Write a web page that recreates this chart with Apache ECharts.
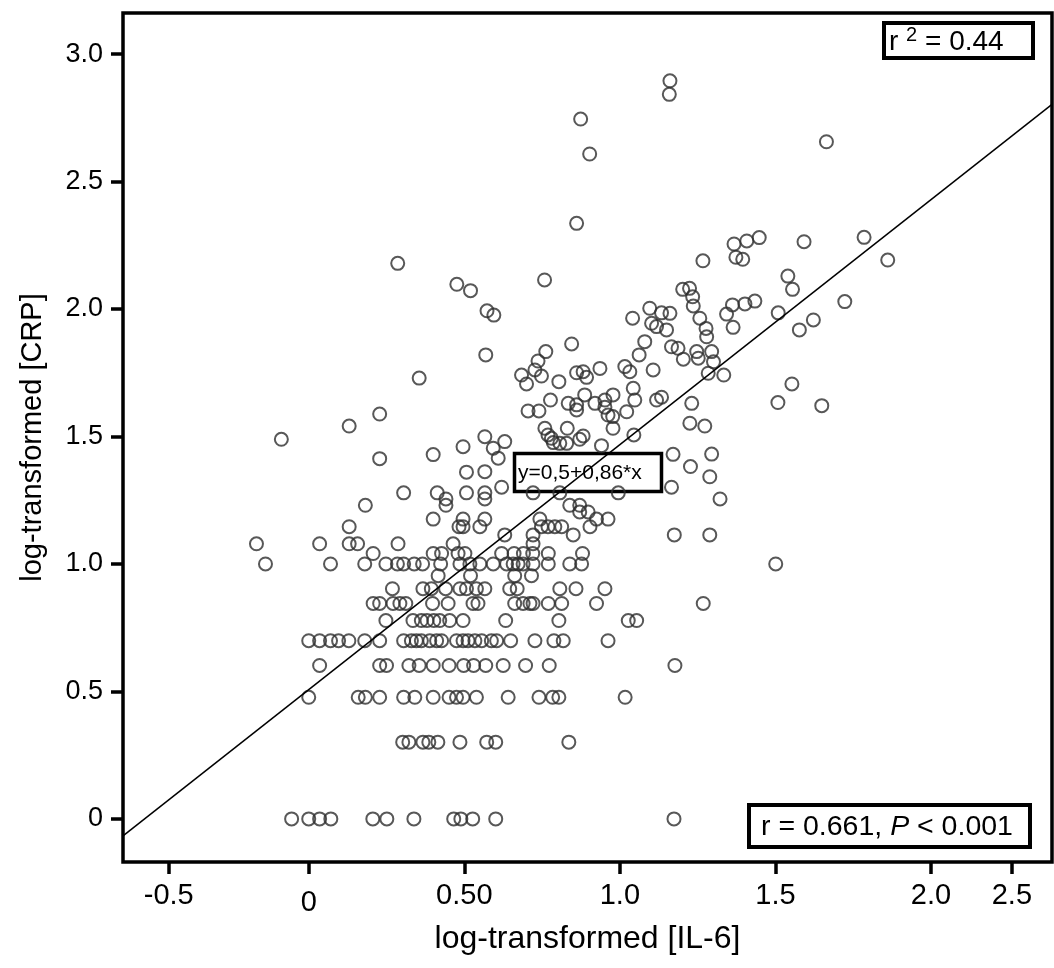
<!DOCTYPE html>
<html>
<head>
<meta charset="utf-8">
<script src="https://cdn.jsdelivr.net/npm/echarts/dist/echarts.min.js"></script>
<style>
  html, body { margin: 0; padding: 0; background: #fff; }
  #main { width: 1054px; height: 968px; }
</style>
</head>
<body>
<div id="main"></div>
<script>
// CRP comes in whole mg/L, so the low part of the cloud sits on log10 levels
const crpLevels = [0, 0.301, 0.477, 0.602, 0.699, 0.778, 0.845, 0.903, 0.954, 1.0,
  1.041, 1.079, 1.114, 1.146, 1.176, 1.204, 1.230, 1.255, 1.279, 1.301];
// log IL-6 of the points on each level above
const il6AtLevel = [
  [-0.055, 0, 0.035, 0.071, 0.206, 0.251, 0.338, 0.466, 0.489, 0.527, 0.601, 1.174],
  [0.302, 0.322, 0.367, 0.386, 0.415, 0.486, 0.572, 0.601, 0.836],
  [0, 0.159, 0.182, 0.228, 0.305, 0.341, 0.400, 0.451, 0.475, 0.496, 0.539, 0.641, 0.740, 0.784, 0.804, 1.017],
  [0.035, 0.228, 0.250, 0.322, 0.355, 0.400, 0.451, 0.498, 0.530, 0.569, 0.625, 0.697, 0.773, 1.177],
  [0, 0.035, 0.070, 0.096, 0.129, 0.180, 0.228, 0.305, 0.330, 0.346, 0.362, 0.389, 0.411, 0.427, 0.475, 0.496, 0.512, 0.534, 0.556, 0.587, 0.604, 0.649, 0.727, 0.788, 0.818, 0.962],
  [0.248, 0.335, 0.362, 0.380, 0.402, 0.421, 0.453, 0.496, 0.633, 0.804, 1.027, 1.054],
  [0.207, 0.228, 0.271, 0.293, 0.312, 0.398, 0.448, 0.528, 0.544, 0.662, 0.689, 0.711, 0.721, 0.770, 0.813, 0.925, 1.268],
  [0.269, 0.367, 0.394, 0.440, 0.486, 0.507, 0.539, 0.566, 0.646, 0.670, 0.807, 0.859, 0.952],
  [0.416, 0.520, 0.662, 0.716],
  [-0.139, 0.070, 0.180, 0.248, 0.285, 0.305, 0.339, 0.366, 0.424, 0.486, 0.518, 0.550, 0.593, 0.636, 0.657, 0.673, 0.689, 0.721, 0.770, 0.839, 0.877, 1.501],
  [0.207, 0.400, 0.427, 0.480, 0.502, 0.620, 0.660, 0.690, 0.720, 0.770, 0.880],
  [-0.168, 0.035, 0.130, 0.157, 0.287, 0.464, 0.721],
  [0.630, 0.721, 0.850, 1.175, 1.289],
  [0.130, 0.483, 0.496, 0.550, 0.748, 0.769, 0.791, 0.813, 0.904],
  [0.400, 0.496, 0.566, 0.743, 0.925, 0.962],
  [0.871, 0.898],
  [0.182, 0.441, 0.839, 0.871],
  [0.441, 0.566, 1.322],
  [0.305, 0.413, 0.507, 0.566, 0.721, 0.807, 0.995],
  [0.620, 1.166]
];
// the scattered upper part of the cloud
const il6Upper = [1.289, 0.507, 0.566, 1.227, 0.228, 0.609, 0.400, 1.171, 1.295, 0.496, 0.593, 0.941,
  0.566, 0.630, 0.769, 0.780, 0.786, 0.807, 0.829, 0.882, 0.871, 1.045, -0.088, 0.130, 0.228, 0.355,
  0.759, 0.831, 0.978, 1.225, 1.273, 0.705, 0.740, 0.952, 0.962, 0.977, 1.022, 0.777, 0.834, 0.861,
  0.861, 0.920, 0.952, 0.978, 0.887, 1.048, 1.118, 1.134, 1.231, 1.043, 0.804, 0.684, 0.700, 0.748,
  0.861, 0.882, 0.893, 0.936, 1.016, 1.032, 1.107, 1.284, 1.334, 0.762, 0.737, 0.727, 0.569, 0.845,
  1.062, 1.080, 1.166, 1.187, 1.204, 1.247, 1.252, 1.295, 1.301, 0.573, 0.595, 1.041, 1.096, 1.134,
  1.161, 1.102, 1.118, 1.150, 1.257, 1.277, 1.279, 1.236, 1.343, 1.364, 1.509, 1.622, 1.577, 1.553,
  1.508, 1.649, 1.367, 1.408, 1.448, 1.373, 1.395, 1.592, 1.785, 1.861, 1.540, 1.555, 1.362, 1.402,
  1.434, 1.723, 0.286, 0.476, 0.520, 0.758, 0.874, 0.903, 0.861, 1.161, 1.159, 1.664, 1.267, 1.202,
  1.224, 1.234];
const crpUpper = [1.342, 1.360, 1.362, 1.382, 1.413, 1.415, 1.429, 1.430, 1.431, 1.460, 1.454, 1.464,
  1.499, 1.480, 1.506, 1.493, 1.476, 1.473, 1.473, 1.502, 1.489, 1.506, 1.489, 1.541, 1.588, 1.729,
  1.532, 1.532, 1.532, 1.552, 1.541, 1.600, 1.600, 1.615, 1.584, 1.578, 1.597, 1.643, 1.630, 1.624,
  1.604, 1.630, 1.643, 1.663, 1.663, 1.643, 1.643, 1.654, 1.630, 1.689, 1.715, 1.741, 1.706, 1.737,
  1.750, 1.754, 1.732, 1.767, 1.774, 1.754, 1.761, 1.748, 1.741, 1.833, 1.796, 1.761, 1.820, 1.863,
  1.820, 1.872, 1.852, 1.846, 1.803, 1.833, 1.807, 1.833, 1.793, 1.993, 1.976, 1.964, 2.003, 1.985,
  1.983, 1.944, 1.931, 1.918, 1.964, 1.924, 1.891, 2.012, 1.980, 1.928, 1.985, 1.957, 1.918, 1.706,
  1.633, 1.621, 2.255, 2.267, 2.280, 2.203, 2.195, 2.264, 2.281, 2.192, 2.129, 2.077, 2.016, 2.020,
  2.031, 2.029, 2.179, 2.097, 2.072, 2.114, 2.745, 2.608, 2.336, 2.895, 2.842, 2.656, 2.189, 2.077,
  2.081, 2.048];

// fitted line as drawn on the figure
const fitIntercept = 0.507;
const fitSlope = 0.961;

const xMin = -0.597, xMax = 2.389;
const yMin = -0.169, yMax = 3.161;
const xTickValues = [-0.45, 0, 0.5, 1, 1.5, 2, 2.26];
const xTickText = ['-0.5', '0', '0.50', '1.0', '1.5', '2.0', '2.5'];
const yTickValues = [0, 0.5, 1, 1.5, 2, 2.5, 3];
const yTickText = ['0', '0.5', '1.0', '1.5', '2.0', '2.5', '3.0'];

let points = [];
crpLevels.forEach(function (lv, i) {
  il6AtLevel[i].forEach(function (x) { points.push([x, lv]); });
});
il6Upper.forEach(function (x, i) { points.push([x, crpUpper[i]]); });

const font = 'Liberation Sans, Arial, sans-serif';
let myChart = echarts.init(document.getElementById('main'));

let option = {
  animation: false,
  backgroundColor: '#fff',
  textStyle: { fontFamily: font, color: '#000' },
  grid: {
    left: 123, right: 2, top: 13, bottom: 106,
    show: true, borderColor: '#000', borderWidth: 3.5, backgroundColor: 'transparent'
  },
  xAxis: {
    type: 'value', min: xMin, max: xMax,
    name: 'log-transformed [IL-6]', nameLocation: 'middle', nameGap: 61,
    nameTextStyle: { fontSize: 32, color: '#000', fontFamily: font },
    axisLine: { show: false, onZero: false },
    splitLine: { show: false },
    axisTick: { show: true, length: 12, customValues: xTickValues, lineStyle: { color: '#000', width: 3.5 } },
    axisLabel: {
      customValues: xTickValues, margin: 19, fontSize: 29, color: '#000', fontFamily: font,
      formatter: function (v) {
        let t = xTickText[xTickValues.indexOf(v)];
        return t === '0' ? '{low|0}' : t;
      },
      rich: { low: { fontSize: 29, fontFamily: font, color: '#000', padding: [7, 0, 0, 0] } }
    }
  },
  yAxis: {
    type: 'value', min: yMin, max: yMax,
    name: 'log-transformed [CRP]', nameLocation: 'middle', nameGap: 76,
    nameTextStyle: { fontSize: 29, color: '#000', fontFamily: font },
    axisLine: { show: false, onZero: false },
    splitLine: { show: false },
    axisTick: { show: true, length: 12, customValues: yTickValues, lineStyle: { color: '#000', width: 3.5 } },
    axisLabel: {
      customValues: yTickValues, margin: 20, fontSize: 27, color: '#000', fontFamily: font,
      formatter: function (v) { return yTickText[yTickValues.indexOf(v)]; }
    }
  },
  series: [
    {
      type: 'scatter',
      data: points,
      symbol: 'circle',
      symbolSize: 13,
      itemStyle: { color: 'rgba(0,0,0,0)', borderColor: '#2e2e2e', borderWidth: 2 },
      z: 2
    },
    {
      type: 'line',
      data: [[xMin, fitIntercept + fitSlope * xMin], [xMax, fitIntercept + fitSlope * xMax]],
      showSymbol: false, symbol: 'none',
      lineStyle: { color: '#000', width: 1.5 },
      z: 3
    }
  ],
  graphic: [
    {
      type: 'group', z: 10,
      children: [
        { type: 'rect', shape: { x: 884, y: 23, width: 149, height: 35 },
          style: { fill: '#fff', stroke: '#000', lineWidth: 4 } },
        { type: 'text', x: 889, y: 42,
          style: {
            text: 'r {s|2} = 0.44', fontSize: 28, fontFamily: font, fill: '#000',
            verticalAlign: 'middle', lineHeight: 34,
            rich: { s: { fontSize: 20, fontFamily: font, fill: '#000', verticalAlign: 'top', lineHeight: 20 } }
          } },
        { type: 'rect', shape: { x: 749, y: 805, width: 281, height: 42 },
          style: { fill: '#fff', stroke: '#000', lineWidth: 4 } },
        { type: 'text', x: 761, y: 827,
          style: {
            text: 'r = 0.661, {i|P} < 0.001', fontSize: 28.5, fontFamily: font, fill: '#000',
            verticalAlign: 'middle',
            rich: { i: { fontSize: 28.5, fontFamily: font, fontStyle: 'italic', fill: '#000' } }
          } },
        { type: 'rect', shape: { x: 514.5, y: 453.5, width: 147, height: 38 },
          style: { fill: '#fff', stroke: '#000', lineWidth: 3.5 } },
        { type: 'text', x: 518, y: 473,
          style: { text: 'y=0,5+0,86*x', fontSize: 21, fontFamily: font, fill: '#000', verticalAlign: 'middle' } }
      ]
    }
  ]
};

myChart.setOption(option);
</script>
</body>
</html>
